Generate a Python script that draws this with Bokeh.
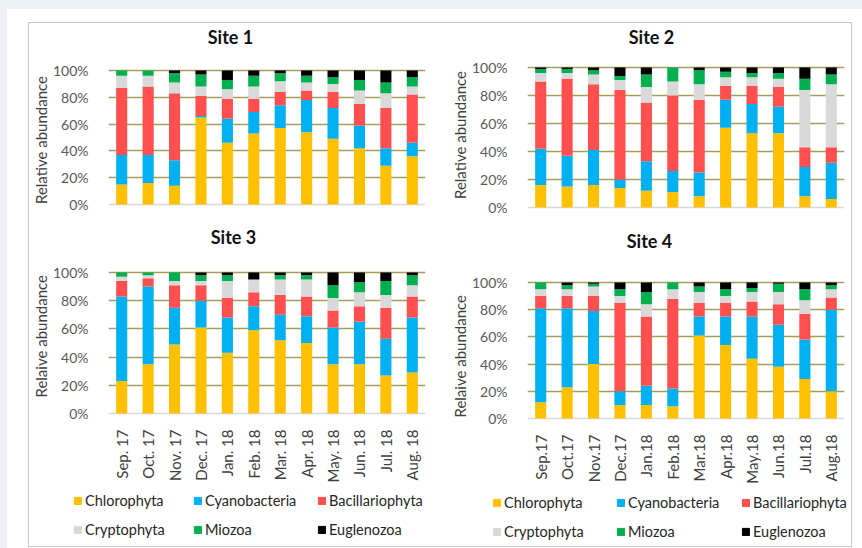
from math import pi

from bokeh.embed import file_html
from bokeh.layouts import column, row
from bokeh.models import (ColumnDataSource, FactorRange, FixedTicker, Label,
                          Legend, LegendItem, Range1d, Span, Title)
from bokeh.plotting import figure
from bokeh.resources import INLINE

# ---- categories -----------------------------------------------------------
groups = ["Chlorophyta", "Cyanobacteria", "Bacillariophyta",
          "Cryptophyta", "Miozoa", "Euglenozoa"]
colors = ["#FFC000", "#00B0F0", "#FF4F4F", "#D9D9D9", "#00B050", "#000000"]

months_spaced = ["Sep. 17", "Oct. 17", "Nov. 17", "Dec. 17", "Jan. 18", "Feb. 18",
                 "Mar. 18", "Apr. 18", "May. 18", "Jun. 18", "Jul. 18", "Aug. 18"]
months_compact = ["Sep.17", "Oct.17", "Nov.17", "Dec.17", "Jan.18", "Feb.18",
                  "Mar.18", "Apr.18", "May.18", "Jun.18", "Jul.18", "Aug.18"]

y_ticks = [0, 20, 40, 60, 80, 100]
y_tick_labels = ["0%", "20%", "40%", "60%", "80%", "100%"]

# ---- relative abundance (%) per site ---------------------------------------
site1_chlorophyta = [15, 16, 14, 65, 46, 53, 57, 54, 49, 42, 29, 36]
site1_cyanobacteria = [22, 21, 19, 1, 18, 16, 17, 24, 23, 17, 13, 10]
site1_bacillariophyta = [50, 51, 50, 15, 15, 10, 10, 7, 12, 16, 30, 36]
site1_cryptophyta = [9, 8, 8, 7, 7, 9, 8, 6, 6, 10, 11, 6]
site1_miozoa = [4, 4, 7, 9, 7, 8, 6, 5, 5, 8, 8, 7]
site1_euglenozoa = [0, 0, 2, 3, 7, 4, 2, 4, 5, 7, 9, 5]

site2_chlorophyta = [16, 15, 16, 14, 12, 11, 8, 57, 53, 53, 8, 6]
site2_cyanobacteria = [26, 22, 25, 6, 21, 15, 17, 20, 21, 19, 21, 26]
site2_bacillariophyta = [48, 55, 47, 64, 42, 54, 52, 10, 13, 14, 14, 11]
site2_cryptophyta = [6, 4, 7, 7, 11, 10, 11, 6, 6, 6, 41, 45]
site2_miozoa = [3, 3, 3, 3, 9, 10, 10, 4, 3, 4, 8, 7]
site2_euglenozoa = [1, 1, 2, 6, 5, 0, 2, 3, 4, 4, 8, 5]

site3_chlorophyta = [23, 35, 49, 61, 43, 59, 52, 50, 35, 35, 27, 29]
site3_cyanobacteria = [60, 55, 26, 19, 25, 17, 18, 19, 26, 30, 26, 39]
site3_bacillariophyta = [11, 6, 16, 11, 14, 10, 14, 14, 12, 11, 22, 15]
site3_cryptophyta = [3, 2, 3, 3, 12, 9, 11, 12, 9, 10, 9, 8]
site3_miozoa = [3, 2, 6, 4, 4, 0, 3, 3, 9, 7, 10, 7]
site3_euglenozoa = [0, 0, 0, 2, 2, 5, 2, 2, 9, 7, 6, 2]

site4_chlorophyta = [12, 23, 40, 10, 10, 9, 61, 54, 44, 38, 29, 20]
site4_cyanobacteria = [69, 58, 39, 10, 14, 13, 14, 21, 31, 31, 29, 60]
site4_bacillariophyta = [9, 9, 11, 65, 51, 66, 10, 10, 11, 15, 19, 9]
site4_cryptophyta = [5, 5, 7, 5, 9, 7, 8, 5, 7, 9, 10, 6]
site4_miozoa = [5, 3, 2, 5, 9, 5, 4, 5, 3, 6, 8, 3]
site4_euglenozoa = [0, 2, 1, 5, 7, 0, 3, 5, 4, 1, 5, 2]

FONT = "Lato"
GRID = "#A69D5C"
BASE = "#D9D9D9"


def value_range(px_zero, px_full, px_top, px_bottom):
    """Range1d whose 0% and 100% land px_zero / px_full pixels down the page."""
    per_pct = (px_zero - px_full) / 100.0
    return Range1d((px_zero - px_bottom) / per_pct, (px_zero - px_top) / per_pct)


def site_panel(title, ylabel, factors, series, show_months, y_range,
               frame_h, bottom, left, right, title_xy, ylabel_offset,
               month_standoff):
    # the frame reaches the top of the canvas so the panel heading sits inside it
    p = figure(x_range=FactorRange(*factors), y_range=y_range,
               frame_width=317, frame_height=frame_h,
               min_border_left=left, min_border_right=right,
               min_border_top=0, min_border_bottom=bottom,
               output_backend="svg", toolbar_location=None)
    p.outline_line_color = None
    p.background_fill_color = "white"
    p.border_fill_color = "white"

    data = {"month": factors}
    data.update(dict(zip(groups, series)))
    p.vbar_stack(groups, x="month", width=0.42, color=colors,
                 line_color=None, source=ColumnDataSource(data))

    p.add_layout(Span(location=0, dimension="width", line_color=BASE,
                      line_width=1.5, level="underlay"))

    p.add_layout(Label(x=title_xy[0], y=title_xy[1], x_units="screen",
                       y_units="screen", text=title, text_align="center",
                       text_baseline="middle", text_font=FONT,
                       text_font_size="18px", text_font_style="bold",
                       text_color="#111111"))

    # vertical axis title, centred on the 0-100 % span rather than the frame
    p.add_layout(Title(text=ylabel, align="left", offset=ylabel_offset,
                       standoff=0, text_font=FONT, text_font_size="15px",
                       text_font_style="normal", text_color="#404040"), "left")

    p.xgrid.grid_line_color = None
    p.ygrid.ticker = FixedTicker(ticks=y_ticks[1:])
    p.ygrid.grid_line_color = GRID
    p.ygrid.grid_line_width = 1.5

    yax = p.yaxis[0]
    yax.ticker = FixedTicker(ticks=y_ticks)
    yax.major_label_overrides = dict(zip(y_ticks, y_tick_labels))
    yax.axis_line_color = None
    yax.major_tick_line_color = None
    yax.minor_tick_line_color = None
    yax.major_label_standoff = 14
    yax.major_label_text_font = FONT
    yax.major_label_text_font_size = "14px"
    yax.major_label_text_color = "#595959"

    xax = p.xaxis[0]
    if show_months:
        xax.axis_line_color = None
        xax.major_tick_line_color = None
        xax.minor_tick_line_color = None
        xax.major_label_orientation = pi / 2
        xax.major_label_standoff = month_standoff
        xax.major_label_text_font = FONT
        xax.major_label_text_font_size = "15px"
        xax.major_label_text_color = "#404040"
    else:
        xax.visible = False
    return p


def legend_panel(width, col_x, base_y):
    p = figure(x_range=Range1d(0, 1), y_range=Range1d(0, 1),
               frame_width=width, frame_height=60, min_border=0,
               x_axis_location=None, y_axis_location=None,
               output_backend="svg", toolbar_location=None)
    p.outline_line_color = None
    p.xgrid.grid_line_color = None
    p.ygrid.grid_line_color = None
    # swatch renderers sit outside the visible range; only their legend shows
    swatches = [p.vbar(x=[10], top=[1], width=0.5, fill_color=c, line_color=c)
                for c in colors]
    for k in range(3):
        items = [LegendItem(label=groups[k], renderers=[swatches[k]]),
                 LegendItem(label=groups[k + 3], renderers=[swatches[k + 3]])]
        leg = Legend(items=items, location=(col_x[k], base_y),
                     glyph_width=9, glyph_height=9, label_standoff=3,
                     padding=0, spacing=9, label_height=20, margin=0,
                     border_line_color=None, background_fill_alpha=0,
                     label_text_font=FONT, label_text_font_size="14.5px",
                     label_text_color="#262626")
        p.add_layout(leg)
    return p


site1 = [site1_chlorophyta, site1_cyanobacteria, site1_bacillariophyta,
         site1_cryptophyta, site1_miozoa, site1_euglenozoa]
site2 = [site2_chlorophyta, site2_cyanobacteria, site2_bacillariophyta,
         site2_cryptophyta, site2_miozoa, site2_euglenozoa]
site3 = [site3_chlorophyta, site3_cyanobacteria, site3_bacillariophyta,
         site3_cryptophyta, site3_miozoa, site3_euglenozoa]
site4 = [site4_chlorophyta, site4_cyanobacteria, site4_bacillariophyta,
         site4_cryptophyta, site4_miozoa, site4_euglenozoa]

# upper row: frame from y=23 to y=210; lower row: frame from y=215 to y=420
p1 = site_panel("Site 1", "Relative abundance", months_spaced, site1, False,
                value_range(204, 70, 23, 210), 187, 5, 79, 6, (122, 174), 6.5, 0)
p2 = site_panel("Site 2", "Relative abundance", months_compact, site2, False,
                value_range(207, 67, 23, 210), 187, 5, 96, 7, (124, 174), 11.5, 0)
p3 = site_panel("Site 3", "Relaive abundance", months_spaced, site3, True,
                value_range(413, 272, 215, 420), 205, 65, 79, 6, (125, 184), 23, 3)
p4 = site_panel("Site 4", "Relaive abundance", months_compact, site4, True,
                value_range(418, 282, 215, 420), 205, 65, 96, 7, (122, 180), 3, 8)

leg_left = legend_panel(402, [44, 164, 288], 7)
leg_right = legend_panel(420, [61, 185, 310], 5)

box = column(row(p1, p2), row(p3, p4), row(leg_left, leg_right),
             styles={"border": "1px solid #C9C9C9"}, margin=(13, 10, 2, 21))
card = column(box, styles={"background-color": "white"}, margin=(9, 0, 0, 7))
page = column(card, styles={"background-color": "#EEF0F3"}, width=862, height=548)

open("out.html", "w").write(file_html(page, INLINE))
